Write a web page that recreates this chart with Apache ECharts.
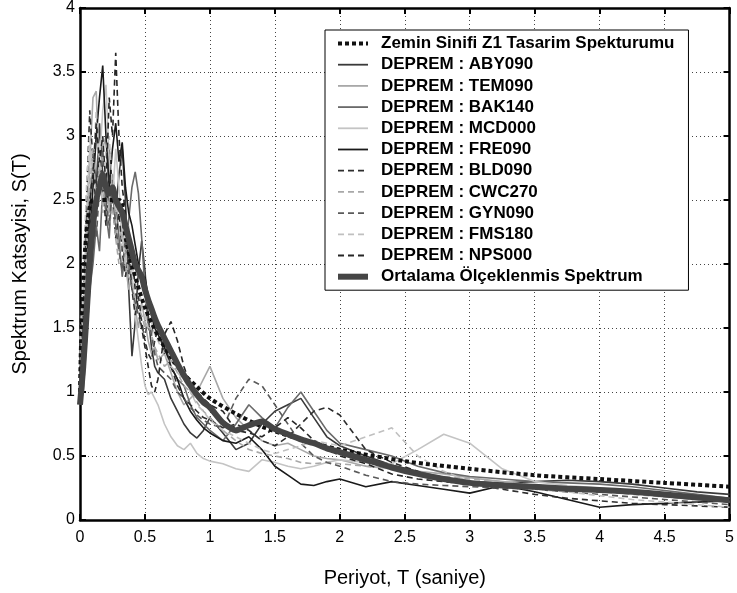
<!DOCTYPE html>
<html>
<head>
<meta charset="utf-8">
<script src="https://cdn.jsdelivr.net/npm/echarts@6/dist/echarts.min.js"></script>
<style>
html,body{margin:0;padding:0;background:#fff;}
#chart{width:737px;height:593px;}
</style>
</head>
<body>
<div id="chart"></div>
<script>
// Period grid (s) shared by the record spectra and the mean spectrum
var periods = [0,0.025,0.05,0.075,0.1,0.125,0.15,0.175,0.2,0.225,0.25,0.275,0.3,0.325,0.35,0.375,0.4,0.425,0.45,0.475,0.5,0.525,0.55,0.575,0.6,
  0.65,0.7,0.75,0.8,0.85,0.9,0.95,1.0,
  1.1,1.2,1.3,1.4,1.5,1.6,1.7,1.8,1.9,2.0,
  2.2,2.4,2.6,2.8,3.0,
  3.25,3.5,3.75,4.0,4.25,4.5,4.75,5.0];

var ABY090 = [1.0,1.3,1.9,2.4,2.9,2.6,3.1,2.7,2.5,2.9,2.6,2.4,2.7,2.9,2.5,1.8,1.28,1.55,1.95,2.18,1.95,1.6,1.35,1.2,1.15,
  1.1,0.95,0.85,0.75,0.68,0.64,0.7,0.8,
  0.68,0.55,0.6,0.75,0.85,0.9,0.95,0.8,0.65,0.58,
  0.5,0.43,0.38,0.33,0.3,
  0.29,0.3,0.31,0.3,0.28,0.25,0.22,0.2];
var TEM090 = [1.1,1.5,2.2,2.8,3.3,3.35,2.6,2.9,3.0,2.4,2.7,2.3,2.1,2.4,2.0,1.8,1.9,1.65,1.5,1.7,1.55,1.4,1.3,1.35,1.25,
  1.3,1.15,1.0,0.9,0.95,1.0,1.1,1.2,
  0.95,0.8,0.7,0.62,0.58,0.6,0.55,0.5,0.48,0.47,
  0.42,0.4,0.38,0.36,0.33,
  0.3,0.27,0.26,0.25,0.22,0.2,0.17,0.15];
var BAK140 = [0.9,1.0,1.4,1.8,2.0,2.3,2.1,2.6,2.4,2.2,2.7,2.5,2.2,1.9,2.1,2.35,2.6,2.72,2.55,2.2,1.8,1.5,1.45,1.6,1.55,
  1.4,1.2,1.1,1.05,0.9,0.8,0.75,0.7,
  0.62,0.75,0.9,0.8,0.72,0.88,1.0,0.85,0.7,0.6,
  0.55,0.5,0.42,0.37,0.34,
  0.32,0.3,0.29,0.28,0.26,0.23,0.2,0.17];
var MCD000 = [1.2,1.6,2.4,2.9,2.6,3.0,2.8,3.2,3.4,2.8,2.5,2.9,2.6,2.2,2.0,2.3,1.9,1.6,1.4,1.2,1.05,0.98,1.0,0.95,0.9,
  0.75,0.65,0.58,0.55,0.6,0.52,0.48,0.46,
  0.44,0.4,0.38,0.47,0.45,0.42,0.4,0.42,0.45,0.47,
  0.45,0.44,0.55,0.67,0.6,
  0.4,0.3,0.27,0.25,0.22,0.2,0.17,0.14];
var FRE090 = [0.95,1.2,1.7,2.2,2.6,3.0,3.3,3.55,3.0,2.6,2.9,3.1,2.8,2.95,2.6,2.4,2.3,2.15,2.0,1.85,1.9,1.75,1.6,1.5,1.45,
  1.35,1.2,1.1,0.95,0.85,0.78,0.72,0.68,
  0.62,0.6,0.65,0.55,0.42,0.35,0.28,0.27,0.3,0.32,
  0.26,0.3,0.27,0.24,0.21,
  0.27,0.22,0.16,0.1,0.12,0.13,0.14,0.15];
var BLD090 = [1.0,1.6,2.5,3.2,2.8,2.4,2.9,2.6,2.3,2.7,2.5,2.2,2.4,2.1,1.9,2.1,1.8,1.6,1.75,1.55,1.4,1.3,1.25,1.4,1.5,
  1.3,1.2,1.05,0.95,0.9,0.85,0.8,0.78,
  0.72,0.75,0.7,0.62,0.58,0.65,0.75,0.85,0.88,0.82,
  0.55,0.45,0.38,0.32,0.28,
  0.24,0.2,0.17,0.15,0.13,0.12,0.11,0.1];
var CWC270 = [1.3,1.7,2.1,2.6,2.9,2.5,2.75,2.4,2.6,2.3,2.45,2.2,2.0,2.25,2.1,1.9,1.85,1.7,1.65,1.6,1.5,1.55,1.45,1.35,1.3,
  1.2,1.25,1.15,1.05,1.0,0.92,0.85,0.8,
  0.7,0.62,0.55,0.52,0.5,0.48,0.45,0.44,0.45,0.44,
  0.42,0.4,0.37,0.34,0.32,
  0.3,0.27,0.25,0.23,0.2,0.18,0.16,0.14];
var GYN090 = [1.1,1.4,1.8,2.2,2.5,2.2,2.6,2.9,2.5,2.3,2.6,2.3,2.1,1.95,2.2,2.0,1.8,1.7,1.6,1.5,1.45,1.55,1.45,1.3,1.2,
  1.15,1.1,1.0,0.95,0.88,0.82,0.78,0.75,
  0.72,0.95,1.1,1.05,0.9,0.75,0.6,0.5,0.45,0.42,
  0.35,0.3,0.28,0.27,0.26,
  0.25,0.24,0.22,0.2,0.18,0.16,0.14,0.12];
var FMS180 = [1.4,1.9,2.6,3.0,2.7,3.2,2.8,2.5,2.9,3.0,2.6,2.4,2.5,2.3,2.0,2.2,2.0,1.85,1.8,1.7,1.6,1.5,1.55,1.45,1.4,
  1.3,1.2,1.15,1.1,1.0,0.9,0.85,0.78,
  0.7,0.65,0.6,0.55,0.52,0.55,0.58,0.62,0.6,0.58,
  0.65,0.72,0.5,0.38,0.3,
  0.27,0.24,0.22,0.19,0.16,0.14,0.12,0.1];
var NPS000 = [0.95,1.3,1.9,2.5,2.7,3.1,2.8,3.0,2.6,3.3,3.0,3.65,3.0,2.6,2.4,2.0,2.1,1.8,1.65,1.5,1.35,1.2,1.05,1.0,1.1,
  1.45,1.55,1.4,1.2,1.05,1.0,0.95,0.9,
  0.85,0.7,0.68,0.65,0.72,0.8,0.72,0.62,0.56,0.5,
  0.44,0.36,0.32,0.3,0.28,
  0.27,0.25,0.23,0.22,0.21,0.19,0.17,0.15];
var meanSpectrum = [0.9,1.2,1.6,2.0,2.3,2.5,2.6,2.7,2.6,2.55,2.6,2.5,2.45,2.4,2.3,2.2,2.1,2.0,1.95,1.9,1.8,1.72,1.65,1.58,1.52,
  1.42,1.32,1.22,1.13,1.05,0.98,0.92,0.88,
  0.76,0.7,0.74,0.77,0.71,0.67,0.63,0.6,0.56,0.53,
  0.47,0.41,0.36,0.32,0.29,
  0.27,0.26,0.245,0.235,0.22,0.2,0.175,0.155];

// Design spectrum (Zemin Sinifi Z1)
var designT = [0,0.1,0.3,0.35,0.4,0.5,0.6,0.7,0.8,0.9,1.0,1.2,1.4,1.6,1.8,2.0,2.5,3.0,3.5,4.0,4.5,5.0];
var designS = [1.0,2.5,2.5,2.21,1.99,1.66,1.44,1.27,1.14,1.04,0.95,0.83,0.73,0.66,0.6,0.55,0.46,0.4,0.35,0.32,0.29,0.26];

var xTicks = [0,0.5,1,1.5,2,2.5,3,3.5,4,4.5,5];
var yTicks = [0,0.5,1,1.5,2,2.5,3,3.5,4];

var records = [
  {name:'DEPREM : ABY090', data:ABY090, color:'#3a3a3a', dash:'solid'},
  {name:'DEPREM : TEM090', data:TEM090, color:'#a8a8a8', dash:'solid'},
  {name:'DEPREM : BAK140', data:BAK140, color:'#6a6a6a', dash:'solid'},
  {name:'DEPREM : MCD000', data:MCD000, color:'#c4c4c4', dash:'solid'},
  {name:'DEPREM : FRE090', data:FRE090, color:'#1a1a1a', dash:'solid'},
  {name:'DEPREM : BLD090', data:BLD090, color:'#2e2e2e', dash:[6,4]},
  {name:'DEPREM : CWC270', data:CWC270, color:'#a8a8a8', dash:[6,4]},
  {name:'DEPREM : GYN090', data:GYN090, color:'#5a5a5a', dash:[6,4]},
  {name:'DEPREM : FMS180', data:FMS180, color:'#c0c0c0', dash:[6,4]},
  {name:'DEPREM : NPS000', data:NPS000, color:'#262626', dash:[6,4]}
];

var designName = 'Zemin Sinifi Z1 Tasarim Spekturumu';
var meanName = 'Ortalama Ölçeklenmis Spektrum';

function pairs(xs, ys){ return xs.map(function(x,i){ return [x, ys[i]]; }); }

var series = records.map(function(r){
  return {
    name:r.name, type:'line', data:pairs(periods, r.data), symbol:'none',
    lineStyle:{color:r.color, width:1.6, type:r.dash}, itemStyle:{color:r.color},
    animation:false, z:2
  };
});
series.push({
  name:designName, type:'line', data:pairs(designT, designS), symbol:'none', smooth:0.3,
  lineStyle:{color:'#111', width:4, type:[4,3]}, itemStyle:{color:'#111'}, animation:false, z:3
});
series.push({
  name:meanName, type:'line', data:pairs(periods, meanSpectrum), symbol:'none', smooth:0.2,
  lineStyle:{color:'#454545', width:6}, itemStyle:{color:'#454545'}, animation:false, z:4
});

var legendData = [{name:designName, lineStyle:{width:4, type:[4,3], color:'#111'}}]
  .concat(records.map(function(r){ return {name:r.name, lineStyle:{width:1.8, type:r.dash, color:r.color}}; }))
  .concat([{name:meanName, lineStyle:{width:6, color:'#454545'}}]);

var chart = echarts.init(document.getElementById('chart'), null, {renderer:'canvas'});
var axisFont = {fontFamily:'Liberation Sans, Arial, sans-serif', fontSize:16, color:'#000'};
chart.setOption({
  backgroundColor:'#fff',
  animation:false,
  grid:{left:80, right:7, top:6, bottom:71, show:false},
  legend:{
    data:legendData, orient:'vertical', left:325, top:30,
    padding:[5,14,5,10], itemGap:4.2, itemWidth:30, itemHeight:17,
    itemStyle:{opacity:0},
    backgroundColor:'#fff', borderColor:'#000', borderWidth:1,
    textStyle:{fontFamily:'Liberation Sans, Arial, sans-serif', fontSize:17, fontWeight:'bold', color:'#000', padding:[0,0,0,8]},
    selectedMode:false
  },
  xAxis:[{
    type:'value', min:0, max:5, interval:0.5, position:'bottom',
    name:'Periyot, T (saniye)', nameLocation:'middle', nameGap:48,
    nameTextStyle:{fontFamily:'Liberation Sans, Arial, sans-serif', fontSize:20, color:'#000'},
    axisLine:{show:true, onZero:false, lineStyle:{color:'#000', width:2.5}},
    axisTick:{show:true, inside:true, length:6, lineStyle:{color:'#000', width:2}},
    axisLabel:Object.assign({margin:10, formatter:function(v){return String(v);}}, axisFont),
    splitLine:{show:true, lineStyle:{color:'#444', width:1, type:[1,3]}}
  },{
    type:'value', min:0, max:5, interval:0.5, position:'top',
    axisLine:{show:true, onZero:false, lineStyle:{color:'#000', width:2.5}},
    axisTick:{show:true, inside:true, length:6, lineStyle:{color:'#000', width:2}},
    axisLabel:{show:false}, splitLine:{show:false}
  }],
  yAxis:[{
    type:'value', min:0, max:4, interval:0.5, position:'left',
    name:'Spektrum Katsayisi, S(T)', nameLocation:'middle', nameGap:50,
    nameTextStyle:{fontFamily:'Liberation Sans, Arial, sans-serif', fontSize:20, color:'#000'},
    axisLine:{show:true, onZero:false, lineStyle:{color:'#000', width:2.5}},
    axisTick:{show:true, inside:true, length:6, lineStyle:{color:'#000', width:2}},
    axisLabel:Object.assign({margin:5, formatter:function(v){return String(v);}}, axisFont),
    splitLine:{show:true, lineStyle:{color:'#444', width:1, type:[1,3]}}
  },{
    type:'value', min:0, max:4, interval:0.5, position:'right',
    axisLine:{show:true, onZero:false, lineStyle:{color:'#000', width:2.5}},
    axisTick:{show:true, inside:true, length:6, lineStyle:{color:'#000', width:2}},
    axisLabel:{show:false}, splitLine:{show:false}
  }],
  series:series
});
</script>
</body>
</html>
